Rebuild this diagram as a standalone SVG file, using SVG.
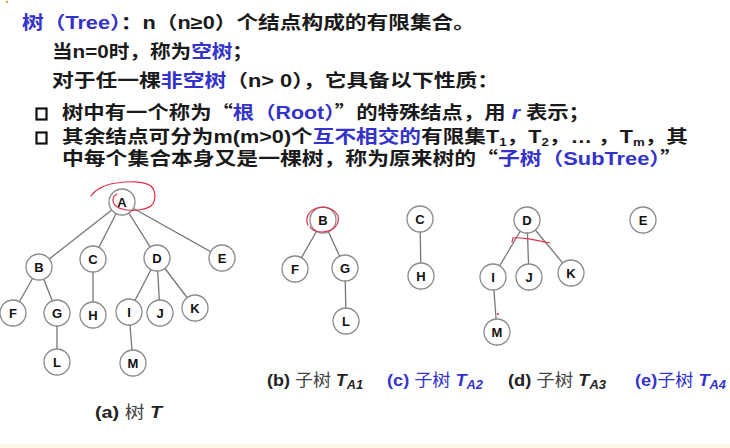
<svg xmlns="http://www.w3.org/2000/svg" width="730" height="448" viewBox="0 0 730 448">
<style>
.t{font-family:"Liberation Sans","Noto Sans CJK SC",sans-serif;font-weight:bold;font-size:18px;fill:#1a1a1a}
.q{font-family:"Noto Sans CJK SC",sans-serif}
.b{fill:#3333cc}
.cap{font-family:"Liberation Sans","Noto Sans CJK SC",sans-serif;font-size:17px;fill:#222}
.cj{font-weight:normal;fill:#444}
.n circle{fill:#fff;stroke:#8a8a8a;stroke-width:1.3}
.n text{font-family:"Liberation Sans",sans-serif;font-weight:bold;font-size:13px;fill:#111;text-anchor:middle}
#edges line{stroke:#777;stroke-width:1.3}
.red{fill:none;stroke:#e0304a;stroke-width:1.2;stroke-linecap:round}
.box{fill:none;stroke:#111;stroke-width:2.2}
</style>
<rect width="730" height="448" fill="#fff"/>
<rect x="0" y="444" width="730" height="4" fill="#fdf8e6"/>
<circle cx="7" cy="2" r="1.2" fill="#f0a040"/>

<g id="text">
<text class="t" x="22" y="29" textLength="453" lengthAdjust="spacingAndGlyphs"><tspan class="b">树（Tree）</tspan>：n（n≥0）个结点构成的有限集合。</text>
<text class="t" x="52" y="58" textLength="201" lengthAdjust="spacingAndGlyphs">当n=0时，称为<tspan class="b">空树</tspan>；</text>
<text class="t" x="52" y="87" textLength="447" lengthAdjust="spacingAndGlyphs">对于任一棵<tspan class="b">非空树</tspan>（n&gt; 0），它具备以下性质：</text>
<rect class="box" x="36.5" y="108.5" width="10" height="11"/>
<text class="t" x="62" y="119" textLength="528" lengthAdjust="spacingAndGlyphs">树中有一个称为<tspan class="q">“</tspan><tspan class="b">根（Root）</tspan><tspan class="q">”</tspan>的特殊结点，用 <tspan class="b" font-style="italic">r</tspan> 表示；</text>
<rect class="box" x="36.5" y="132.5" width="10" height="11"/>
<text class="t" x="62" y="143" textLength="626" lengthAdjust="spacingAndGlyphs">其余结点可分为m(m&gt;0)个<tspan class="b">互不相交的</tspan>有限集T<tspan font-size="11" dy="3">1</tspan><tspan dy="-3">，T</tspan><tspan font-size="11" dy="3">2</tspan><tspan dy="-3">，… ，T</tspan><tspan font-size="11" dy="3">m</tspan><tspan dy="-3">，其</tspan></text>
<text class="t" x="62" y="165" textLength="620" lengthAdjust="spacingAndGlyphs">中每个集合本身又是一棵树，称为原来树的<tspan class="q">“</tspan><tspan class="b">子树（SubTree）</tspan><tspan class="q">”</tspan></text>
</g>

<g id="edges">
<line x1="122" y1="202" x2="39" y2="267"/>
<line x1="122" y1="202" x2="93" y2="259"/>
<line x1="122" y1="202" x2="157" y2="258"/>
<line x1="122" y1="202" x2="222" y2="258"/>
<line x1="39" y1="267" x2="13" y2="313"/>
<line x1="39" y1="267" x2="57" y2="313"/>
<line x1="57" y1="313" x2="57" y2="362"/>
<line x1="93" y1="259" x2="93" y2="315"/>
<line x1="157" y1="258" x2="129" y2="312"/>
<line x1="157" y1="258" x2="160" y2="313"/>
<line x1="157" y1="258" x2="195" y2="308"/>
<line x1="129" y1="312" x2="133" y2="363"/>
<line x1="323" y1="220" x2="295" y2="269"/>
<line x1="323" y1="220" x2="345" y2="268"/>
<line x1="345" y1="268" x2="346" y2="321"/>
<line x1="420" y1="219" x2="421" y2="276"/>
<line x1="527" y1="220" x2="493" y2="277"/>
<line x1="527" y1="220" x2="529" y2="277"/>
<line x1="527" y1="220" x2="571" y2="273"/>
<line x1="493" y1="277" x2="497" y2="332"/>
</g>

<g id="a-A" class="n"><circle cx="122" cy="202" r="13"/><text x="122" y="207">A</text></g>
<g id="a-B" class="n"><circle cx="39" cy="267" r="13"/><text x="39" y="272">B</text></g>
<g id="a-C" class="n"><circle cx="93" cy="259" r="13"/><text x="93" y="264">C</text></g>
<g id="a-D" class="n"><circle cx="157" cy="258" r="13"/><text x="157" y="263">D</text></g>
<g id="a-E" class="n"><circle cx="222" cy="258" r="13"/><text x="222" y="263">E</text></g>
<g id="a-F" class="n"><circle cx="13" cy="313" r="13"/><text x="13" y="318">F</text></g>
<g id="a-G" class="n"><circle cx="57" cy="313" r="13"/><text x="57" y="318">G</text></g>
<g id="a-H" class="n"><circle cx="93" cy="315" r="13"/><text x="93" y="320">H</text></g>
<g id="a-I" class="n"><circle cx="129" cy="312" r="13"/><text x="129" y="317">I</text></g>
<g id="a-J" class="n"><circle cx="160" cy="313" r="13"/><text x="160" y="318">J</text></g>
<g id="a-K" class="n"><circle cx="195" cy="308" r="13"/><text x="195" y="313">K</text></g>
<g id="a-L" class="n"><circle cx="57" cy="362" r="13"/><text x="57" y="367">L</text></g>
<g id="a-M" class="n"><circle cx="133" cy="363" r="13"/><text x="133" y="368">M</text></g>

<g id="b-B" class="n"><circle cx="323" cy="220" r="13"/><text x="323" y="225">B</text></g>
<g id="b-F" class="n"><circle cx="295" cy="269" r="13"/><text x="295" y="274">F</text></g>
<g id="b-G" class="n"><circle cx="345" cy="268" r="13"/><text x="345" y="273">G</text></g>
<g id="b-L" class="n"><circle cx="346" cy="321" r="13"/><text x="346" y="326">L</text></g>
<g id="c-C" class="n"><circle cx="420" cy="219" r="13"/><text x="420" y="224">C</text></g>
<g id="c-H" class="n"><circle cx="421" cy="276" r="13"/><text x="421" y="281">H</text></g>
<g id="d-D" class="n"><circle cx="527" cy="220" r="13"/><text x="527" y="225">D</text></g>
<g id="d-I" class="n"><circle cx="493" cy="277" r="13"/><text x="493" y="282">I</text></g>
<g id="d-J" class="n"><circle cx="529" cy="277" r="13"/><text x="529" y="282">J</text></g>
<g id="d-K" class="n"><circle cx="571" cy="273" r="13"/><text x="571" y="278">K</text></g>
<g id="d-M" class="n"><circle cx="497" cy="332" r="13"/><text x="497" y="337">M</text></g>
<g id="e-E" class="n"><circle cx="643" cy="220" r="13"/><text x="643" y="225">E</text></g>

<g id="annotations">
<path class="red" d="M91,196 C95,190 105,184 117,183 C128,181 143,181 151,186 C156,191 156,200 152,205 C147,210 134,211 126,210 C118,209 113,205 113,200 C113,197 115,195 117,194"/>
<path class="red" d="M308,225 C305,219 308,211 317,208 C325,206 334,208 338,216 C340,224 334,231 323,232 C317,232 312,230 310,227"/>
<path class="red" d="M512,242 L513,238 C520,237 530,239 550,243"/>
<circle cx="498" cy="314" r="1.1" fill="#e0304a"/>
</g>

<g id="captions">
<text class="cap" x="95" y="418" textLength="67" lengthAdjust="spacingAndGlyphs"><tspan font-weight="bold">(a) </tspan><tspan class="cj">树</tspan><tspan font-weight="bold" font-style="italic"> T</tspan></text>
<text class="cap" x="267" y="386" textLength="96" lengthAdjust="spacingAndGlyphs"><tspan font-weight="bold">(b) </tspan><tspan class="cj">子树</tspan><tspan font-weight="bold" font-style="italic"> T</tspan><tspan font-weight="bold" font-style="italic" font-size="12" dy="3">A1</tspan></text>
<text class="cap" x="387" y="386" textLength="96" lengthAdjust="spacingAndGlyphs" style="fill:#3333cc"><tspan font-weight="bold">(c) </tspan><tspan font-weight="normal">子树</tspan><tspan font-weight="bold" font-style="italic"> T</tspan><tspan font-weight="bold" font-style="italic" font-size="12" dy="3">A2</tspan></text>
<text class="cap" x="508" y="386" textLength="98" lengthAdjust="spacingAndGlyphs"><tspan font-weight="bold">(d) </tspan><tspan class="cj">子树</tspan><tspan font-weight="bold" font-style="italic"> T</tspan><tspan font-weight="bold" font-style="italic" font-size="12" dy="3">A3</tspan></text>
<text class="cap" x="635" y="386" textLength="91" lengthAdjust="spacingAndGlyphs" style="fill:#3333cc"><tspan font-weight="bold">(e)</tspan><tspan font-weight="normal">子树</tspan><tspan font-weight="bold" font-style="italic"> T</tspan><tspan font-weight="bold" font-style="italic" font-size="12" dy="3">A4</tspan></text>
</g>
</svg>
